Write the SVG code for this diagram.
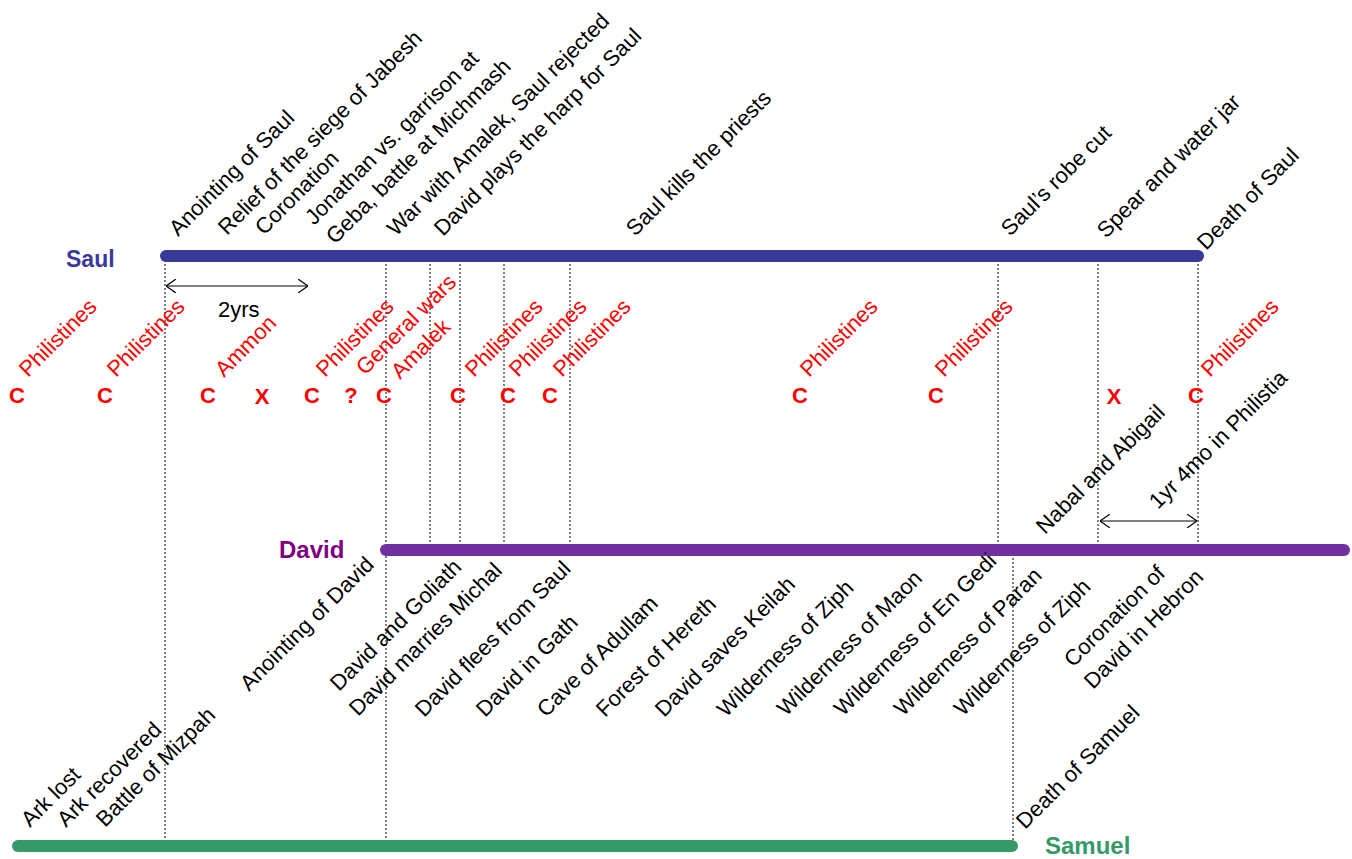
<svg xmlns="http://www.w3.org/2000/svg" width="1352" height="859" viewBox="0 0 1352 859">
<style>
text{font-family:"Liberation Sans",Arial,sans-serif}
.lbl{font-size:22px;fill:#000}
.red{font-size:22px;fill:#FF0000}
.mk{font-size:22px;font-weight:bold;fill:#FF0000;text-anchor:middle}
.bar{stroke-width:12;stroke-linecap:round;fill:none}
.dot{stroke:#000;stroke-width:1;stroke-dasharray:2,2;fill:none}
.arr{stroke:#000;stroke-width:1.2;fill:none}
.name{font-weight:bold}
</style>
<defs>
<marker id="ah" viewBox="0 0 10 14" refX="10" refY="7" markerWidth="10" markerHeight="14" markerUnits="userSpaceOnUse" orient="auto-start-reverse">
<path d="M0,0 L10,7 L0,14" fill="none" stroke="#000" stroke-width="1.2"/>
</marker>
</defs>

<g id="connectors">
<line class="dot" x1="165" y1="256" x2="165" y2="846"/>
<line class="dot" x1="386" y1="256" x2="386" y2="846"/>
<line class="dot" x1="430" y1="256" x2="430" y2="550"/>
<line class="dot" x1="460" y1="256" x2="460" y2="550"/>
<line class="dot" x1="504" y1="256" x2="504" y2="550"/>
<line class="dot" x1="570" y1="256" x2="570" y2="550"/>
<line class="dot" x1="998" y1="256" x2="998" y2="550"/>
<line class="dot" x1="1098" y1="256" x2="1098" y2="550"/>
<line class="dot" x1="1198" y1="256" x2="1198" y2="550"/>
<line class="dot" x1="1013" y1="550" x2="1013" y2="846"/>
<line class="arr" x1="166" y1="286" x2="308" y2="286" marker-start="url(#ah)" marker-end="url(#ah)"/>
<line class="arr" x1="1100" y1="521" x2="1197" y2="521" marker-start="url(#ah)" marker-end="url(#ah)"/>
</g>

<g id="saul">
<line class="bar" x1="166" y1="256" x2="1198" y2="256" stroke="#383898"/>
<text class="name" x="66" y="267" font-size="23" fill="#3A3A9A">Saul</text>
</g>
<g id="david">
<line class="bar" x1="386" y1="550" x2="1344" y2="550" stroke="#7030A0"/>
<text class="name" x="279" y="558" font-size="24" fill="#800080">David</text>
</g>
<g id="samuel">
<line class="bar" x1="18" y1="846" x2="1012" y2="846" stroke="#359A67"/>
<text class="name" x="1045" y="854" font-size="24" fill="#359A67">Samuel</text>
</g>

<g id="saul-events">
<text class="lbl" transform="translate(178,237) rotate(-45)">Anointing of Saul</text>
<text class="lbl" transform="translate(227,236) rotate(-45)">Relief of the siege of Jabesh</text>
<text class="lbl" transform="translate(264,236) rotate(-45)">Coronation</text>
<text class="lbl" transform="translate(314,226) rotate(-45)">Jonathan vs. garrison at</text>
<text class="lbl" transform="translate(335,245) rotate(-45)">Geba, battle at Michmash</text>
<text class="lbl" transform="translate(396,237) rotate(-45)">War with Amalek, Saul rejected</text>
<text class="lbl" transform="translate(443,237) rotate(-45)">David plays the harp for Saul</text>
<text class="lbl" transform="translate(635,237) rotate(-45)">Saul kills the priests</text>
<text class="lbl" transform="translate(1010,237) rotate(-45)">Saul’s robe cut</text>
<text class="lbl" transform="translate(1106,239) rotate(-45)">Spear and water jar</text>
<text class="lbl" transform="translate(1206,251) rotate(-45)">Death of Saul</text>
</g>

<g id="span-2yrs">
<text class="lbl" x="218" y="317" font-size="21">2yrs</text>
</g>

<g id="wars">
<text class="red" transform="translate(28,378) rotate(-45)">Philistines</text>
<text class="red" transform="translate(116,378) rotate(-45)">Philistines</text>
<text class="red" transform="translate(224,378) rotate(-45)">Ammon</text>
<text class="red" transform="translate(325,378) rotate(-45)">Philistines</text>
<text class="red" transform="translate(365,376) rotate(-45)">General wars</text>
<text class="red" transform="translate(400,380) rotate(-45)">Amalek</text>
<text class="red" transform="translate(474,378) rotate(-45)">Philistines</text>
<text class="red" transform="translate(518,378) rotate(-45)">Philistines</text>
<text class="red" transform="translate(562,378) rotate(-45)">Philistines</text>
<text class="red" transform="translate(809,378) rotate(-45)">Philistines</text>
<text class="red" transform="translate(944,378) rotate(-45)">Philistines</text>
<text class="red" transform="translate(1210,378) rotate(-45)">Philistines</text>
<text class="mk" x="17" y="403">C</text>
<text class="mk" x="105" y="403">C</text>
<text class="mk" x="208" y="403">C</text>
<text class="mk" x="262" y="404">X</text>
<text class="mk" x="312" y="403">C</text>
<text class="mk" x="351" y="403">?</text>
<text class="mk" x="384" y="403">C</text>
<text class="mk" x="458" y="403">C</text>
<text class="mk" x="508" y="403">C</text>
<text class="mk" x="550" y="403">C</text>
<text class="mk" x="800" y="403">C</text>
<text class="mk" x="936" y="403">C</text>
<text class="mk" x="1114" y="404">X</text>
<text class="mk" x="1196" y="403">C</text>
</g>

<g id="philistia">
<text class="lbl" transform="translate(1045,535) rotate(-45)">Nabal and Abigail</text>
<text class="lbl" transform="translate(1158,510) rotate(-45)">1yr 4mo in Philistia</text>
</g>

<g id="david-events">
<text class="lbl" transform="translate(249,692) rotate(-45)">Anointing of David</text>
<text class="lbl" transform="translate(339,692) rotate(-45)">David and Goliath</text>
<text class="lbl" transform="translate(358,717) rotate(-45)">David marries Michal</text>
<text class="lbl" transform="translate(424,718) rotate(-45)">David flees from Saul</text>
<text class="lbl" transform="translate(485,718) rotate(-45)">David in Gath</text>
<text class="lbl" transform="translate(546,718) rotate(-45)">Cave of Adullam</text>
<text class="lbl" transform="translate(605,718) rotate(-45)">Forest of Hereth</text>
<text class="lbl" transform="translate(664,718) rotate(-45)">David saves Keilah</text>
<text class="lbl" transform="translate(726,718) rotate(-45)">Wilderness of Ziph</text>
<text class="lbl" transform="translate(786,717) rotate(-45)">Wilderness of Maon</text>
<text class="lbl" transform="translate(843,717) rotate(-45)">Wilderness of En Gedi</text>
<text class="lbl" transform="translate(903,717) rotate(-45)">Wilderness of Paran</text>
<text class="lbl" transform="translate(963,717) rotate(-45)">Wilderness of Ziph</text>
<text class="lbl" transform="translate(1073,668) rotate(-45)">Coronation of</text>
<text class="lbl" transform="translate(1093,690) rotate(-45)">David in Hebron</text>
</g>

<g id="samuel-events">
<text class="lbl" transform="translate(30,828) rotate(-45)">Ark lost</text>
<text class="lbl" transform="translate(66,828) rotate(-45)">Ark recovered</text>
<text class="lbl" transform="translate(105,828) rotate(-45)">Battle of Mizpah</text>
<text class="lbl" transform="translate(1025,830) rotate(-45)">Death of Samuel</text>
</g>
</svg>
